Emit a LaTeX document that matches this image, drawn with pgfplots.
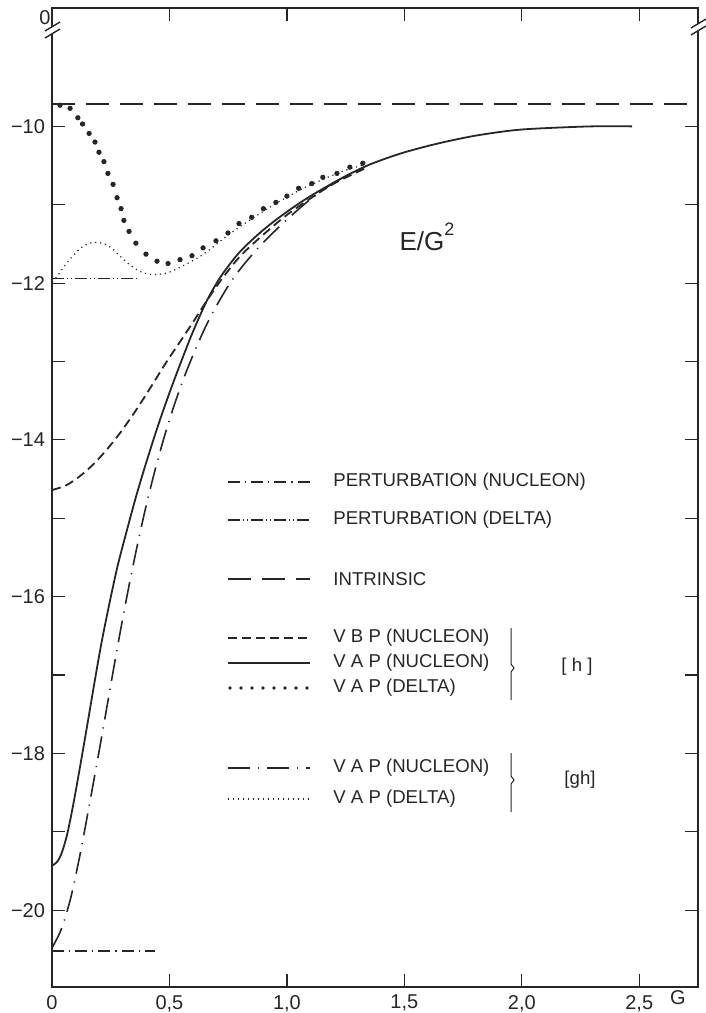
\documentclass[border=0pt]{standalone}
\usepackage{fontspec}
\setmainfont{Liberation Sans}
\usepackage{pgfplots}
\pgfplotsset{compat=1.18}
\newcommand\lf{\fontsize{9.3}{11}\selectfont}
\newcommand\tf{\fontsize{10}{12}\selectfont}
\tikzset{
  ink/.style={black!85},
  intr/.style={ink, line width=0.9pt, dash pattern=on 11.5pt off 5.5pt},
  vbp/.style={ink, line width=0.9pt, dash pattern=on 4.5pt off 2.5pt},
  vapn/.style={ink, line width=0.9pt},
  vapgh/.style={ink, line width=0.8pt, dash pattern=on 11pt off 4pt on 0.6pt off 4pt},
  pertn/.style={ink, line width=0.9pt, dash pattern=on 6pt off 2.5pt on 0.6pt off 2.5pt},
  pertd/.style={ink, line width=0.7pt, dash pattern=on 6pt off 1.5pt on 0.5pt off 1.5pt on 0.5pt off 1.5pt},
  fined/.style={ink, line width=0.6pt, dash pattern=on 0.6pt off 1.9pt},
  bigdots/.style={ink, line width=1.9pt, line cap=round, dash pattern=on 0pt off 5.5pt},
}
\begin{document}
\begin{tikzpicture}
\path[use as bounding box] (0,0) rectangle (353pt,-506.5pt);
\begin{axis}[
  at={(26pt,-493.5pt)}, anchor=south west,
  width=323pt, height=489.5pt, scale only axis,
  xmin=0, xmax=2.75, ymin=-20.98, ymax=-8.49,
  axis line style={line width=0.9pt, black!85},
  xtick={0,0.5,1,1.5,2,2.5},
  xticklabels={0,{0,5},{1,0},{1,5},{2,0},{2,5}},
  ytick={-20,-18,-16,-14,-12,-10},
  yticklabels={−20,−18,−16,−14,−12,−10},
  minor ytick={-19,-17,-15,-13,-11},
  tick align=inside, major tick length=6.5pt, minor tick length=6.5pt,
  tick style={line width=0.6pt, black!85},
  ticklabel style={font=\tf, text=black!85},
  xticklabel style={yshift=-0.5pt},
]
% INTRINSIC
\addplot[intr] coordinates {(0,-9.71) (2.75,-9.71)};
% PERTURBATION (NUCLEON)
\addplot[pertn] coordinates {(0,-20.52) (0.44,-20.52)};
% PERTURBATION (DELTA)
\addplot[pertd] coordinates {(0,-11.94) (0.36,-11.94)};
% VBP (NUCLEON)
\addplot[vbp, smooth] coordinates {
(0,-14.64) (0.06,-14.58) (0.12,-14.46) (0.18,-14.30) (0.24,-14.10) (0.30,-13.87)
(0.36,-13.61) (0.42,-13.33) (0.48,-13.04) (0.54,-12.77) (0.60,-12.50) (0.66,-12.22)
(0.72,-11.96) (0.80,-11.66) (0.90,-11.38) (1.00,-11.13) (1.10,-10.92) (1.20,-10.73)
(1.33,-10.54)};
% VAP (NUCLEON) [h]
\addplot[vapn, smooth] coordinates {
(0,-19.43) (0.02,-19.39) (0.04,-19.28) (0.064,-19.04) (0.09,-18.66) (0.12,-18.16)
(0.15,-17.64) (0.18,-17.11) (0.21,-16.6) (0.247,-16.05) (0.28,-15.6) (0.32,-15.14)
(0.36,-14.7) (0.4,-14.3) (0.45,-13.83) (0.5,-13.4) (0.55,-13.0) (0.6,-12.62)
(0.66,-12.22) (0.72,-11.91) (0.8,-11.6) (0.9,-11.32) (1.0,-11.09) (1.1,-10.89)
(1.24,-10.65) (1.35,-10.49) (1.48,-10.35) (1.6,-10.25) (1.7,-10.18) (1.8,-10.12)
(1.91,-10.07) (2.0,-10.04) (2.12,-10.02) (2.3,-10.0) (2.47,-10.0)};
% VAP (NUCLEON) [gh]
\addplot[vapgh, smooth] coordinates {
(0,-20.48) (0.04,-20.24) (0.08,-19.84) (0.12,-19.28) (0.16,-18.64) (0.20,-17.98)
(0.24,-17.30) (0.28,-16.62) (0.32,-15.98) (0.36,-15.39) (0.40,-14.85) (0.44,-14.37)
(0.48,-13.94) (0.52,-13.56) (0.56,-13.22) (0.60,-12.92) (0.65,-12.58) (0.70,-12.29)
(0.76,-11.99) (0.82,-11.75) (0.90,-11.48) (1.00,-11.19) (1.10,-10.93) (1.20,-10.72)
(1.33,-10.52)};
% VAP (DELTA) [gh]
\addplot[fined, smooth] coordinates {
(0,-11.98) (0.02,-11.92) (0.064,-11.74) (0.119,-11.56) (0.16,-11.49) (0.196,-11.48)
(0.23,-11.51) (0.26,-11.57) (0.32,-11.74) (0.374,-11.85) (0.425,-11.89) (0.49,-11.87)
(0.557,-11.78) (0.63,-11.66) (0.685,-11.54) (0.757,-11.37) (0.85,-11.18) (0.95,-10.99)
(1.05,-10.82) (1.15,-10.68) (1.25,-10.56) (1.33,-10.49)};
% VAP (DELTA) [h]
\addplot[only marks, mark=*, mark size=1.1pt, black!85] coordinates {
(0.034,-9.73) (0.077,-9.77) (0.11,-9.89) (0.13,-9.97) (0.158,-10.09) (0.183,-10.2)
(0.2,-10.33) (0.221,-10.45) (0.238,-10.6) (0.26,-10.74) (0.277,-10.91) (0.294,-11.05)
(0.306,-11.2) (0.328,-11.34) (0.357,-11.49) (0.4,-11.63) (0.447,-11.72) (0.494,-11.75)
(0.545,-11.7) (0.596,-11.65) (0.643,-11.55) (0.698,-11.46) (0.749,-11.36) (0.796,-11.24)
(0.85,-11.16) (0.9,-11.05) (0.953,-10.97) (1.0,-10.89) (1.05,-10.79) (1.106,-10.73)
(1.153,-10.65) (1.213,-10.6) (1.268,-10.52) (1.323,-10.47)};
\end{axis}
\begin{scope}[x=0.5pt,y=-0.5pt]
% axis breaks
\fill[white] (45,38)--(60,29)--(60,22)--(45,31)--cycle;
\draw[ink, line width=0.7pt] (45,38)--(60,29);
\draw[ink, line width=0.7pt] (45,31)--(60,22);
\fill[white] (691,35)--(706,26)--(706,19)--(691,28)--cycle;
\draw[ink, line width=0.7pt] (691,35)--(706,26);
\draw[ink, line width=0.7pt] (691,28)--(706,19);
\node[ink, font=\tf] at (45,18) {0};
\node[ink, font=\tf] at (678,998) {G};
% title
\node[ink, font=\fontsize{13}{14}\selectfont, anchor=base] at (427,250) {E/G\raisebox{1.05ex}{\fontsize{9}{9}\selectfont 2}};
% legend
\draw[pertn] (228,482) -- (310,482);
\node[ink, font=\lf, anchor=west, inner sep=0pt] at (333,482) {PERTURBATION (NUCLEON)};
\draw[pertd] (228,520) -- (310,520);
\node[ink, font=\lf, anchor=west, inner sep=0pt] at (333,520) {PERTURBATION (DELTA)};
\draw[intr] (228,579) -- (310,579);
\node[ink, font=\lf, anchor=west, inner sep=0pt] at (333,579) {INTRINSIC};
\draw[vbp] (228,638) -- (310,638);
\node[ink, font=\lf, anchor=west, inner sep=0pt] at (333,638) {V B P (NUCLEON)};
\draw[vapn] (228,663) -- (310,663);
\node[ink, font=\lf, anchor=west, inner sep=0pt] at (333,663) {V A P (NUCLEON)};
\draw[bigdots] (230,688) -- (310,688);
\node[ink, font=\lf, anchor=west, inner sep=0pt] at (333,688) {V A P (DELTA)};
\draw[vapgh] (228,768) -- (310,768);
\node[ink, font=\lf, anchor=west, inner sep=0pt] at (333,768) {V A P (NUCLEON)};
\draw[fined] (228,799) -- (310,799);
\node[ink, font=\lf, anchor=west, inner sep=0pt] at (333,799) {V A P (DELTA)};
% brackets
\draw[ink, line width=0.5pt] (511,628)--(511,664)--(514,668)--(511,672)--(511,700);
\node[ink, font=\lf] at (577,667) {[ h ]};
\draw[ink, line width=0.5pt] (511,753)--(511,776)--(514,780)--(511,784)--(511,812);
\node[ink, font=\lf] at (580,780) {[gh]};
\end{scope}
\end{tikzpicture}
\end{document}
